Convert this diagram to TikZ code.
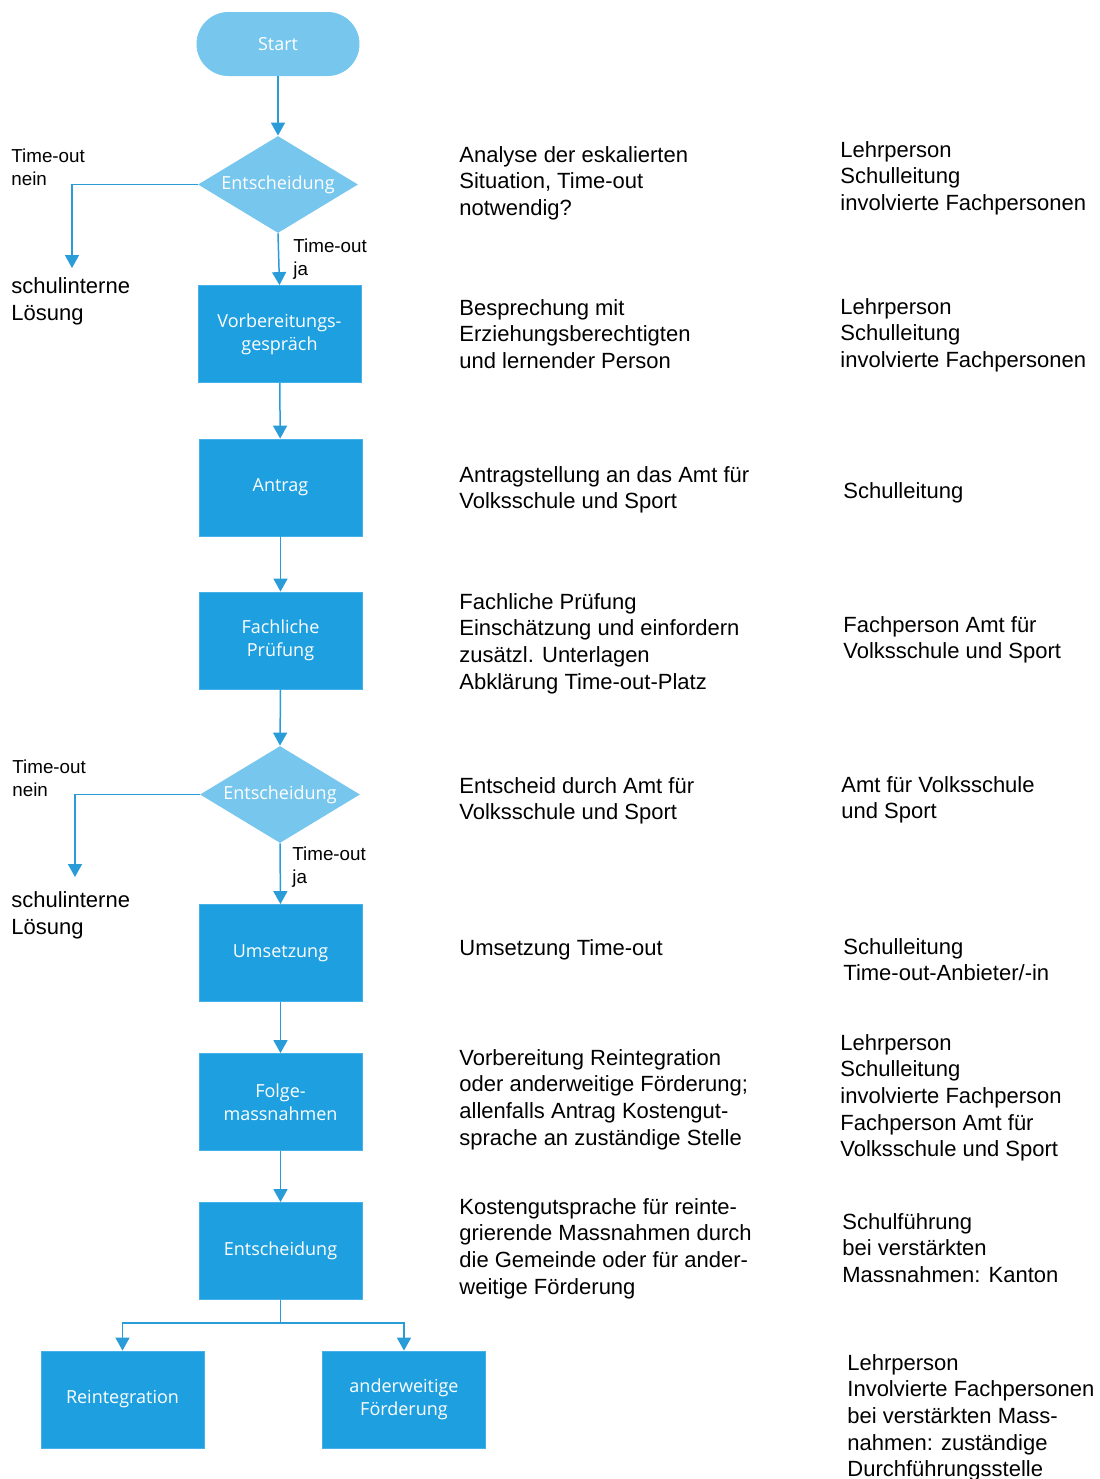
\documentclass[tikz,border=0pt]{standalone}
\usepackage{fontspec}
\setmainfont{Liberation Sans}
\newfontfamily\boxfont{Open Sans}
\usetikzlibrary{arrows.meta,shapes.geometric}
\definecolor{boxblue}{HTML}{1EA0E0}
\definecolor{boxedge}{HTML}{45B1E8}
\definecolor{lightblue}{HTML}{76C6EE}
\definecolor{lineblue}{HTML}{2A9DD8}
\begin{document}
\begin{tikzpicture}[x=0.5pt,y=-0.5pt,
  flow/.style={draw=lineblue, line width=0.75pt, -{Triangle[width=7pt,length=6.5pt]}},
  pbox/.style={rectangle, fill=boxblue, draw=boxedge, line width=0.4pt, minimum width=81.5pt, minimum height=48.5pt, inner sep=0pt, text=white, font=\boxfont\fontsize{9}{11.5}\selectfont, align=center},
  startbox/.style={rectangle, rounded corners=16pt, fill=lightblue, minimum width=81.5pt, minimum height=32pt, inner sep=0pt, text=white, font=\boxfont\fontsize{9}{11.5}\selectfont},
  decis/.style={diamond, aspect=1.65, fill=lightblue, minimum width=80pt, minimum height=48.5pt, inner sep=0pt, text=white, font=\boxfont\fontsize{9}{11.5}\selectfont},
  lbl/.style={anchor=base west, inner sep=0pt, align=left, font=\fontsize{9.4}{11.5}\selectfont},
  sol/.style={anchor=base west, inner sep=0pt, align=left, font=\fontsize{11}{13.5}\selectfont},
  desc/.style={anchor=base west, inner sep=0pt, align=left, font=\fontsize{11}{13.35}\selectfont}
]
\useasboundingbox (0,0) rectangle (1099,1479);

% flow nodes
\node[startbox] (start) at (278,44) {Start};
\node[decis] (d1) at (278,184.5) {Entscheidung};
\node[pbox] (b1) at (279.5,334) {Vorbereitungs-\\gespräch};
\node[pbox] (b2) at (280.5,487.5) {Antrag};
\node[pbox] (b3) at (280.5,640.5) {Fachliche\\Prüfung};
\node[decis] (d2) at (280,794.5) {Entscheidung};
\node[pbox] (b4) at (280.5,953) {Umsetzung};
\node[pbox] (b5) at (280.5,1102) {Folge-\\massnahmen};
\node[pbox] (b6) at (280.5,1251) {Entscheidung};
\node[pbox] (b7) at (122.5,1399.5) {Reintegration};
\node[pbox] (b8) at (404,1399.5) {anderweitige\\Förderung};

\coordinate (e1) at (72,268);
\coordinate (e2) at (75,877);

% connectors
\draw[flow] (start) -- (d1.north);
\draw[flow] (d1.west) -| (e1);
\draw[flow] (d1.south) -- (b1.north);
\draw[flow] (b1) -- (b2);
\draw[flow] (b2) -- (b3);
\draw[flow] (b3.south) -- (d2.north);
\draw[flow] (d2.west) -| (e2);
\draw[flow] (d2.south) -- (b4.north);
\draw[flow] (b4) -- (b5);
\draw[flow] (b5) -- (b6);
\draw[flow] (b6.south) -- ++(0,23) -| (b7.north);
\draw[flow] (b6.south) -- ++(0,23) -| (b8.north);

% branch labels (anchored at baseline of last line)
\node[lbl] (tn1) at (11,185) {Time-out\\nein};
\node[lbl] (tj1) at (293,275) {Time-out\\ja};
\node[sol] (s1) at (11,320) {schulinterne\\Lösung};
\node[lbl] (tn2) at (12,796) {Time-out\\nein};
\node[lbl] (tj2) at (292,883) {Time-out\\ja};
\node[sol] (s2) at (11,934) {schulinterne\\Lösung};

% descriptions
\node[desc] (t1) at (459,215.4) {Analyse der eskalierten\\Situation, Time-out\\notwendig?};
\node[desc] (t2) at (459,368.4) {Besprechung mit\\Erziehungsberechtigten\\und lernender Person};
\node[desc] (t3) at (459,508.7) {Antragstellung an das Amt für\\Volksschule und Sport};
\node[desc] (t4) at (459,689.1) {Fachliche Prüfung\\Einschätzung und einfordern\\zusätzl. Unterlagen\\Abklärung Time-out-Platz};
\node[desc] (t5) at (459,819.7) {Entscheid durch Amt für\\Volksschule und Sport};
\node[desc] (t6) at (459,955) {Umsetzung Time-out};
\node[desc] (t7) at (459,1145.1) {Vorbereitung Reintegration\\oder anderweitige Förderung;\\allenfalls Antrag Kostengut-\\sprache an zuständige Stelle};
\node[desc] (t8) at (459,1294.1) {Kostengutsprache für reinte-\\grierende Massnahmen durch\\die Gemeinde oder für ander-\\weitige Förderung};

% responsible
\node[desc] (r1) at (840,210.4) {Lehrperson\\Schulleitung\\involvierte Fachpersonen};
\node[desc] (r2) at (840,367.4) {Lehrperson\\Schulleitung\\involvierte Fachpersonen};
\node[desc] (r3) at (843,498) {Schulleitung};
\node[desc] (r4) at (843,658.7) {Fachperson Amt für\\Volksschule und Sport};
\node[desc] (r5) at (841,818.7) {Amt für Volksschule\\und Sport};
\node[desc] (r6) at (843,980.7) {Schulleitung\\Time-out-Anbieter/-in};
\node[desc] (r7) at (840,1156.8) {Lehrperson\\Schulleitung\\involvierte Fachperson\\Fachperson Amt für\\Volksschule und Sport};
\node[desc] (r8) at (842,1282.4) {Schulführung\\bei verstärkten\\Massnahmen: Kanton};
\node[desc] (r9) at (847,1476.8) {Lehrperson\\Involvierte Fachpersonen\\bei verstärkten Mass-\\nahmen: zuständige\\Durchführungsstelle};
\end{tikzpicture}
\end{document}
